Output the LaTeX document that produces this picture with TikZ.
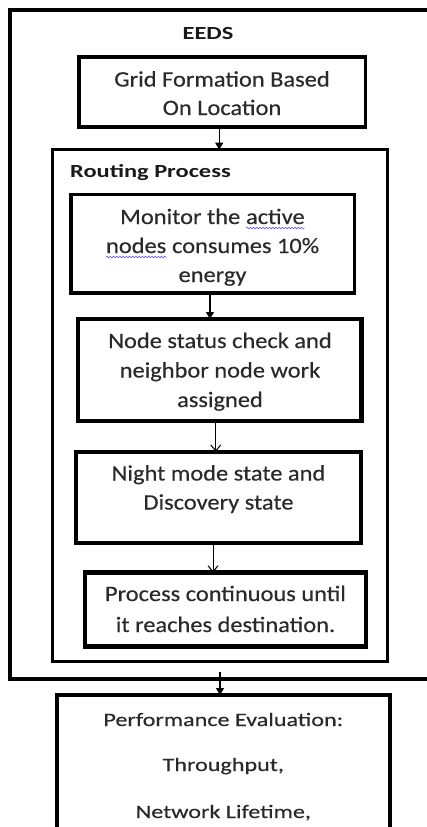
\documentclass[tikz,border=0pt]{standalone}
\usepackage{fontspec}
\setmainfont{Carlito}
\newfontfamily\bodyfont[FakeStretch=1.11,FakeBold=0.4]{Carlito}
\newfontfamily\headfont[FakeStretch=1.32]{Carlito}
\newfontfamily\perffont[FakeStretch=1.27,FakeBold=0.4]{Carlito}
\usetikzlibrary{arrows.meta,decorations.pathmorphing}
\definecolor{txtgray}{HTML}{2A2A2A}
\definecolor{squigblue}{HTML}{5A5AF0}
\tikzset{
 box/.style={draw=black, fill=none, inner sep=0pt, outer sep=0pt},
 bodytxt/.style={anchor=base, inner sep=0pt, text=txtgray, font=\bodyfont\fontsize{22}{26}\selectfont},
 headtxt/.style={inner sep=0pt, text=black!90, font=\headfont\bfseries\fontsize{18.5}{22}\selectfont},
 perftxt/.style={anchor=base, inner sep=0pt, text=txtgray, font=\perffont\fontsize{19}{23}\selectfont},
 filledarrow/.style={-{Triangle[length=7pt,width=8pt]}, line width=1.2pt},
 openarrow/.style={-{Straight Barb[length=6pt,width=10pt]}, line width=1pt},
 squigline/.style={draw=squigblue, line width=0.6pt, decorate, decoration={snake, amplitude=0.8pt, segment length=3.2pt}}
}
\newcommand\squigword[1]{\tikz[baseline=(sq.base)]{\node[anchor=base, inner sep=0pt, outer sep=0pt, draw=none, fill=none, text=txtgray] (sq) {#1};\draw[squigline] ([yshift=-4pt]sq.base west) -- ([yshift=-4pt]sq.base east);}}
\begin{document}
\begin{tikzpicture}[x=1pt,y=-1pt]
\useasboundingbox (0,0) rectangle (427,827);
% boxes
\node[box, line width=3.3pt, minimum width=430pt, minimum height=669pt] (outer) at (225,344.5) {};
\node[box, line width=3.5pt, minimum width=286.5pt, minimum height=70pt] (grid) at (222.25,92) {};
\node[box, line width=3pt, minimum width=335pt, minimum height=511.3pt] (routing) at (219.5,405.35) {};
\node[box, line width=3.5pt, minimum width=283.3pt, minimum height=98.5pt] (monitor) at (212.65,243.75) {};
\node[box, line width=4.3pt, minimum width=283.5pt, minimum height=102pt] (status) at (219.75,370) {};
\node[box, line width=4pt, minimum width=284.4pt, minimum height=91.3pt] (night) at (218.5,497.35) {};
\node[box, line width=4.8pt, minimum width=281pt, minimum height=74.2pt] (process) at (225.5,609.6) {};
\node[box, line width=4pt, minimum width=333.3pt, minimum height=175pt] (perf) at (223.35,782.5) {};
% texts
\node[headtxt, anchor=base] (eeds) at (208,39) {EEDS};
\node[bodytxt] (g1) at (222,86.5) {Grid Formation Based};
\node[bodytxt] (g2) at (222,115) {On Location};
\node[headtxt, anchor=base west] (rp) at (70,177) {Routing Process};
\node[bodytxt] (m1) at (212.5,224) {Monitor the \squigword{active}};
\node[bodytxt] (m2) at (212.5,253) {\squigword{nodes} consumes 10\%};
\node[bodytxt] (m3) at (212.5,282) {energy};
\node[bodytxt] (s1) at (220,348) {Node status check and};
\node[bodytxt] (s2) at (220,377.5) {neighbor node work};
\node[bodytxt] (s3) at (220,407) {assigned};
\node[bodytxt] (n1) at (218.5,480.5) {Night mode state and};
\node[bodytxt] (n2) at (218.5,509.5) {Discovery state};
\node[bodytxt] (p1) at (225.5,601) {Process continuous until};
\node[bodytxt] (p2) at (225.5,632) {it reaches destination.};
\node[perftxt] (e1) at (223.3,726) {Performance Evaluation:};
\node[perftxt] (e2) at (223.3,771) {Throughput,};
\node[perftxt] (e3) at (223.3,818) {Network Lifetime,};
% arrows
\draw[filledarrow] ([xshift=-3pt]grid.south) -- ([xshift=-3pt]grid.south |- routing.north);
\draw[filledarrow] ([xshift=-2.65pt]monitor.south) -- ([xshift=-2.65pt]monitor.south |- status.north);
\draw[openarrow] ([xshift=-4pt]status.south) -- ([xshift=-4pt]status.south |- night.north);
\draw[openarrow] ([xshift=-5.5pt]night.south) -- ([xshift=-5.5pt]night.south |- process.north);
\coordinate (p5) at (220,672);
\draw[filledarrow] (p5) -- (p5 |- perf.north);
\end{tikzpicture}
\end{document}
